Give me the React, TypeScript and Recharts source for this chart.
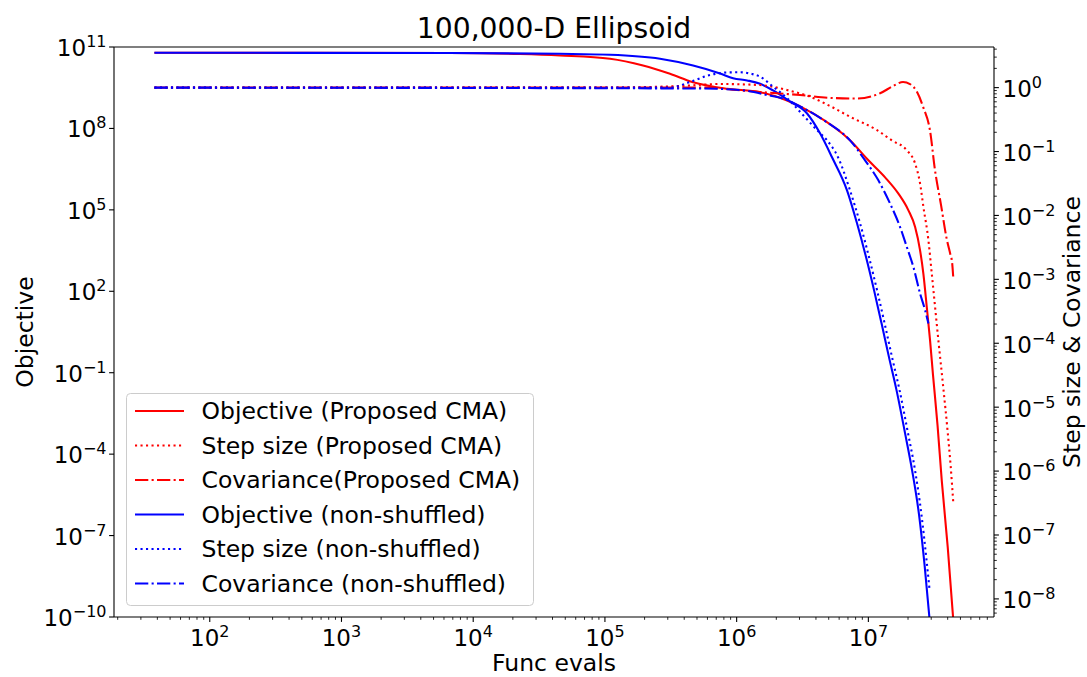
import React from 'react';
import { LineChart, Line, XAxis, YAxis, ReferenceLine, Legend } from 'recharts';

const FONT = '"DejaVu Sans", "Liberation Sans", sans-serif';
const RED = '#ff0000';
const BLUE = '#0000ff';
const DOTTED = '2.1 3.4';
const DASHDOT = '13.3 3.3 2.1 3.3';

// ---- Objective (Proposed CMA) : left axis
const propObjX = [38, 6650, 22650, 45600, 109400, 194500, 311900, 466900, 845700, 1.507e6, 2.414e6, 3.802e6, 7.256e6, 1.0e7, 1.339e7, 1.691e7, 2.014e7, 2.264e7, 2.469e7, 2.615e7, 2.776e7, 2.94e7, 3.097e7, 3.351e7, 3.606e7, 4.005e7, 4.41e7];
const propObjY = [6.11e10, 6.01e10, 5.52e10, 4.86e10, 3.68e10, 2.08e10, 1.03e10, 5.06e9, 2.9e9, 2.17e9, 1.07e9, 3.57e8, 3.65e7, 6.68e6, 1.58e6, 3.96e5, 9.61e4, 2.33e4, 3230, 447, 26.2, 1.56, 0.08, 1.15e-3, 1.08e-5, 3.68e-8, 8e-11];

// ---- Step size (Proposed CMA) : right axis
const propStepX = [38, 91800, 371500, 748300, 1.507e6, 2.414e6, 3.606e6, 5.117e6, 7.256e6, 1.164e7, 1.506e7, 1.959e7, 2.265e7, 2.47e7, 2.618e7, 2.858e7, 3.03e7, 3.21e7, 3.4e7, 3.69e7, 3.99e7, 4.21e7, 4.41e7];
const propStepY = [1, 1, 1.059, 1.138, 1.096, 0.916, 0.719, 0.515, 0.35, 0.216, 0.1497, 0.1044, 0.0647, 0.0315, 0.01353, 4.07e-3, 1.227e-3, 3.69e-4, 1.11e-4, 2.19e-5, 4.33e-6, 1.23e-6, 3.24e-7];

// ---- Covariance (Proposed CMA) : right axis
const propCovX = [38, 527300, 1.507e6, 3.027e6, 5.392e6, 8.199e6, 1.227e7, 1.542e7, 1.834e7, 2.071e7, 2.342e7, 2.602e7, 2.94e7, 3.206e7, 3.565e7, 3.925e7, 4.21e7, 4.322e7, 4.41e7];
const propCovY = [1, 1, 0.853, 0.766, 0.687, 0.675, 0.815, 1.059, 1.225, 1.138, 0.853, 0.502, 0.21, 0.0508, 0.01438, 4.38e-3, 2.37e-3, 1.845e-3, 1.07e-3];

// ---- Objective (non-shuffled) : left axis
const nsObjX = [38, 6650, 45600, 109400, 261800, 466900, 748300, 939700, 1.2e6, 1.507e6, 1.89e6, 2.541e6, 3.425e6, 4.297e6, 5.297e6, 6.886e6, 8.199e6, 9.61e6, 1.105e7, 1.259e7, 1.435e7, 1.637e7, 1.9e7, 2.148e7, 2.428e7, 2.673e7, 2.917e7];
const nsObjY = [6.11e10, 6.05e10, 5.62e10, 5.16e10, 3.68e10, 2.08e10, 1.06e10, 7.08e9, 5.85e9, 4.42e9, 2.51e9, 9.86e8, 3.56e8, 6.61e7, 8.63e6, 5.25e5, 3.19e4, 1783, 108, 6.59, 0.368, 0.0224, 5.83e-4, 2.53e-5, 5.56e-7, 8.0e-9, 8e-11];

// ---- Step size (non-shuffled) : right axis
const nsStepX = [38, 311900, 442600, 628200, 845700, 1.062e6, 1.31e6, 1.507e6, 1.89e6, 2.414e6, 3.027e6, 4.076e6, 4.856e6, 5.888e6, 7.256e6, 8.649e6, 1.012e7, 1.164e7, 1.328e7, 1.514e7, 1.726e7, 2.001e7, 2.261e7, 2.533e7, 2.791e7, 2.917e7];
const nsStepY = [1, 1, 1.225, 1.574, 1.726, 1.738, 1.633, 1.483, 1.033, 0.687, 0.419, 0.216, 0.1497, 0.0811, 0.0247, 7.52e-3, 2.21e-3, 6.76e-4, 2.05e-4, 6.01e-5, 1.83e-5, 3.89e-6, 1.03e-6, 2.03e-7, 3.34e-8, 1.36e-8];

// ---- Covariance (non-shuffled) : right axis
const nsCovX = [38, 527300, 1.062e6, 1.703e6, 2.414e6, 3.027e6, 4.856e6, 7.256e6, 9.44e6, 1.191e7, 1.462e7, 1.741e7, 1.959e7, 2.198e7, 2.47e7, 2.698e7, 2.858e7];
const nsCovY = [1, 0.968, 0.916, 0.766, 0.64, 0.51, 0.286, 0.1497, 0.0728, 0.0354, 0.01531, 6.58e-3, 3.2e-3, 1.556e-3, 5.97e-4, 3.27e-4, 2.03e-4];

// ---- axes
const X_DOMAIN: [number, number] = [18.75, 8.99e7];
const LEFT_DOMAIN: [number, number] = [1e-10, 1e11];
const RIGHT_DOMAIN: [number, number] = [5.21e-9, 4.32];
const xMajorTicks = [1e2, 1e3, 1e4, 1e5, 1e6, 1e7];
const leftTicks = [1e-10, 1e-7, 1e-4, 1e-1, 1e2, 1e5, 1e8, 1e11];
const rightMajorTicks = [1e-8, 1e-7, 1e-6, 1e-5, 1e-4, 1e-3, 1e-2, 1e-1, 1e0];

const TITLE = '100,000-D Ellipsoid';
const X_LABEL = 'Func evals';
const LEFT_LABEL = 'Objective';
const RIGHT_LABEL = 'Step size & Covariance';

const minorTicks = (lo: number, hi: number) => {
  const out: number[] = [];
  for (let k = Math.floor(Math.log10(lo)); k <= Math.ceil(Math.log10(hi)); k++) {
    for (let m = 2; m <= 9; m++) {
      const v = m * Math.pow(10, k);
      if (v >= lo && v <= hi) out.push(v);
    }
  }
  return out;
};

const xTicks = [...xMajorTicks, ...minorTicks(X_DOMAIN[0], X_DOMAIN[1])];
const rightTicks = [...rightMajorTicks, ...minorTicks(RIGHT_DOMAIN[0], RIGHT_DOMAIN[1])];

const isMajor = (v: number) => {
  const l = Math.log10(v);
  return Math.abs(l - Math.round(l)) < 1e-6;
};

const toPoints = (xs: number[], ys: number[]) => xs.map((x, i) => ({ x, y: ys[i] }));

type Series = { name: string; xs: number[]; ys: number[]; color: string; dash?: string; axis: string };

const series: Series[] = [
  { name: 'Objective (Proposed CMA)', xs: propObjX, ys: propObjY, color: RED, axis: 'left' },
  { name: 'Step size (Proposed CMA)', xs: propStepX, ys: propStepY, color: RED, dash: DOTTED, axis: 'right' },
  { name: 'Covariance(Proposed CMA)', xs: propCovX, ys: propCovY, color: RED, dash: DASHDOT, axis: 'right' },
  { name: 'Objective (non-shuffled)', xs: nsObjX, ys: nsObjY, color: BLUE, axis: 'left' },
  { name: 'Step size (non-shuffled)', xs: nsStepX, ys: nsStepY, color: BLUE, dash: DOTTED, axis: 'right' },
  { name: 'Covariance (non-shuffled)', xs: nsCovX, ys: nsCovY, color: BLUE, dash: DASHDOT, axis: 'right' },
];
const drawOrder = [0, 3, 1, 2, 4, 5];

const PowLabel = ({ x, y, anchor, v }: { x: number; y: number; anchor: 'start' | 'middle' | 'end'; v: number }) => {
  const e = Math.round(Math.log10(v));
  const s = e < 0 ? '\u2212' + Math.abs(e) : String(e);
  return (
    <text x={x} y={y} textAnchor={anchor} fontFamily={FONT} fontSize={23} fill="#000">
      <tspan>10</tspan>
      <tspan dy={-9} fontSize={16}>{s}</tspan>
    </text>
  );
};

const XTick = (props: any) => {
  const { x, y, payload } = props;
  const v = payload.value;
  const major = isMajor(v);
  return (
    <g>
      <line x1={x} x2={x} y1={y} y2={y + (major ? 4.9 : 2.8)} stroke="#000" strokeWidth={major ? 1.1 : 0.85} />
      {major && <PowLabel x={x} y={y + 28.7} anchor="middle" v={v} />}
    </g>
  );
};

const LeftTick = (props: any) => {
  const { x, y, payload } = props;
  const v = payload.value;
  return (
    <g>
      <line x1={x} x2={x - 4.9} y1={y} y2={y} stroke="#000" strokeWidth={1.1} />
      <PowLabel x={x - 7.5} y={y + 9} anchor="end" v={v} />
    </g>
  );
};

const RightTick = (props: any) => {
  const { x, y, payload } = props;
  const v = payload.value;
  const major = isMajor(v);
  return (
    <g>
      <line x1={x} x2={x + (major ? 4.9 : 2.8)} y1={y} y2={y} stroke="#000" strokeWidth={major ? 1.1 : 0.85} />
      {major && <PowLabel x={x + 8.5} y={y + 9.4} anchor="start" v={v} />}
    </g>
  );
};

const LegendBox = () => (
  <svg width={408} height={213} style={{ display: 'block' }}>
    <rect x={0.5} y={0.5} width={407} height={212} rx={4} ry={4} fill="#ffffff" fillOpacity={0.8} stroke="#cccccc" strokeWidth={1} />
    {series.map((s, i) => {
      const cy = 18 + i * 34.5;
      return (
        <g key={s.name}>
          <line x1={9} x2={58} y1={cy} y2={cy} stroke={s.color} strokeWidth={2.08} strokeDasharray={s.dash} />
          <text x={75.5} y={cy + 8} fontFamily={FONT} fontSize={23.5} fill="#000">{s.name}</text>
        </g>
      );
    })}
  </svg>
);

export default function App() {
  return (
    <div style={{ position: 'absolute', left: 0, top: 0, width: 1087, height: 677, background: '#fff' }}>
      <LineChart width={1087} height={677} margin={{ top: 47, right: 0, bottom: 0, left: 0 }}>
        <XAxis
          dataKey="x"
          type="number"
          scale="log"
          domain={X_DOMAIN}
          allowDataOverflow
          ticks={xTicks}
          interval={0}
          tick={XTick}
          tickLine={false}
          tickSize={0}
          tickMargin={0}
          height={60}
          axisLine={{ stroke: '#000', strokeWidth: 1.1 }}
        />
        <YAxis
          yAxisId="left"
          type="number"
          scale="log"
          domain={LEFT_DOMAIN}
          allowDataOverflow
          ticks={leftTicks}
          interval={0}
          tick={LeftTick}
          tickLine={false}
          tickSize={0}
          tickMargin={0}
          width={114}
          axisLine={{ stroke: '#000', strokeWidth: 1.1 }}
        />
        <YAxis
          yAxisId="right"
          orientation="right"
          type="number"
          scale="log"
          domain={RIGHT_DOMAIN}
          allowDataOverflow
          ticks={rightTicks}
          interval={0}
          tick={RightTick}
          tickLine={false}
          tickSize={0}
          tickMargin={0}
          width={93}
          axisLine={{ stroke: '#000', strokeWidth: 1.1 }}
        />
        <ReferenceLine yAxisId="left" y={1e11} stroke="#000" strokeWidth={1.1} ifOverflow="visible" />
        {drawOrder.map((i) => {
          const s = series[i];
          return (
            <Line
              key={s.name}
              name={s.name}
              data={toPoints(s.xs, s.ys)}
              dataKey="y"
              yAxisId={s.axis}
              type="monotone"
              stroke={s.color}
              strokeWidth={2.08}
              strokeDasharray={s.dash}
              dot={false}
              activeDot={false}
              isAnimationActive={false}
            />
          );
        })}
        <Legend
          layout="vertical"
          align="center"
          verticalAlign="middle"
          content={() => <LegendBox />}
          wrapperStyle={{ position: 'absolute', left: 125.5, top: 393, width: 408, height: 213, margin: 0, padding: 0 }}
        />
      </LineChart>
      <svg width={1087} height={677} style={{ position: 'absolute', left: 0, top: 0, pointerEvents: 'none' }}>
        <text x={554} y={37.7} textAnchor="middle" fontFamily={FONT} fontSize={28.2} fill="#000">{TITLE}</text>
        <text x={554} y={671} textAnchor="middle" fontFamily={FONT} fontSize={23.5} fill="#000">{X_LABEL}</text>
        <text transform="translate(33,332) rotate(-90)" textAnchor="middle" fontFamily={FONT} fontSize={23.5} fill="#000">{LEFT_LABEL}</text>
        <text transform="translate(1079.5,332) rotate(-90)" textAnchor="middle" fontFamily={FONT} fontSize={23.5} fill="#000">{RIGHT_LABEL}</text>
      </svg>
    </div>
  );
}
